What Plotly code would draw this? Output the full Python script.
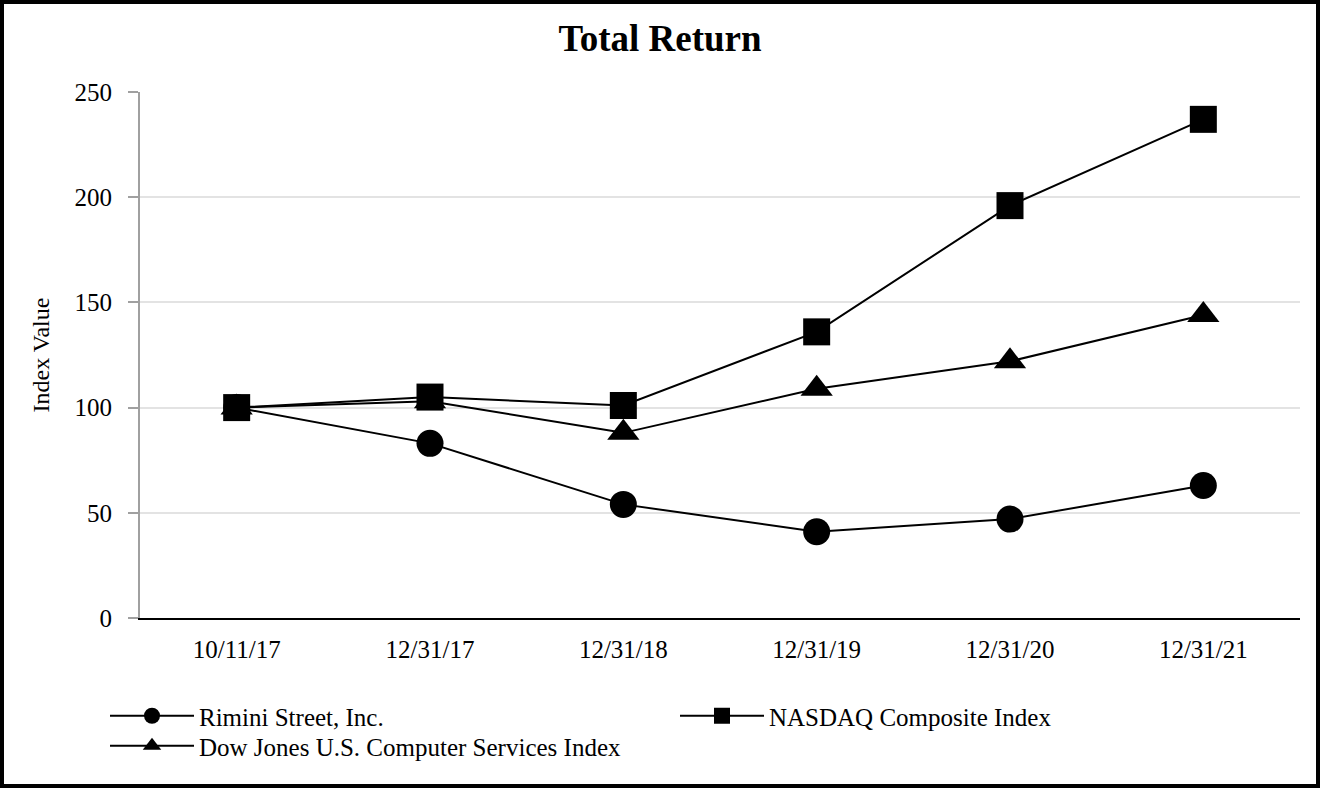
import plotly.graph_objects as go

dates = ["10/11/17", "12/31/17", "12/31/18", "12/31/19", "12/31/20", "12/31/21"]
rimini = [100, 83, 54, 41, 47, 63]
nasdaq = [100, 105, 101, 136, 196, 237]
dowjones = [100, 103, 88, 109, 122, 144]

W, H = 1320, 788
ML, MR, MT, MB = 140, 20, 92, 170
PW, PH = W - ML - MR, H - MT - MB

def px_x(p):
    return (p - ML) / PW

def px_y(p):
    return 1 - (p - MT) / PH

FONT = "Liberation Serif"
LEGFONT = dict(family=FONT, size=25, color="black")

def leg(xp, yp):
    return dict(orientation="v", x=px_x(xp), y=px_y(yp), xanchor="left", yanchor="top",
                itemwidth=84, font=LEGFONT, tracegroupgap=0, bgcolor="rgba(0,0,0,0)")

fig = go.Figure()
fig.add_trace(go.Scatter(x=dates, y=rimini, name="Rimini Street, Inc.", mode="lines+markers",
                         line=dict(color="black", width=2),
                         marker=dict(symbol="circle", size=27, color="black"), legend="legend"))
fig.add_trace(go.Scatter(x=dates, y=nasdaq, name="NASDAQ Composite Index", mode="lines+markers",
                         line=dict(color="black", width=2),
                         marker=dict(symbol="square", size=27, color="black"), legend="legend2"))
fig.add_trace(go.Scatter(x=dates, y=dowjones, name="Dow Jones U.S. Computer Services Index", mode="lines+markers",
                         line=dict(color="black", width=2),
                         marker=dict(symbol="triangle-up", size=28, color="black"), legend="legend3"))

fig.update_layout(
    width=W, height=H,
    margin=dict(l=ML, r=MR, t=MT, b=MB),
    paper_bgcolor="white", plot_bgcolor="white",
    font=dict(family=FONT, size=25, color="black"),
    title=dict(text="<b>Total Return</b>", x=0.5, xanchor="center", y=1 - 38 / H, yanchor="middle",
               font=dict(family=FONT, size=37, color="black")),
    xaxis=dict(type="category", showgrid=False, showline=True, linecolor="black", linewidth=2,
               ticks="", tickfont=dict(size=25), range=[-0.5, 5.5], ticklabelstandoff=8),
    yaxis=dict(range=[0, 250], dtick=50, showgrid=True, gridcolor="#e3e3e3", gridwidth=2,
               showline=True, linecolor="#a0a0a0", linewidth=2, ticks="outside", ticklen=10,
               tickcolor="#a0a0a0", tickwidth=2, zeroline=False, tickfont=dict(size=25),
               ticklabelstandoff=11,
               title=dict(text="Index Value", font=dict(size=24), standoff=18)),
    legend=leg(105, 693),
    legend2=leg(675, 693),
    legend3=leg(105, 723),
    showlegend=True,
)

fig.add_shape(type="rect", xref="paper", yref="paper",
              x0=px_x(2), x1=px_x(W - 2), y0=px_y(H - 2), y1=px_y(2),
              line=dict(color="black", width=4), fillcolor="rgba(0,0,0,0)", layer="above")

fig.write_html("out.html", config={"displayModeBar": False},
               post_script="document.body.style.margin='0';document.body.style.overflow='hidden';")
